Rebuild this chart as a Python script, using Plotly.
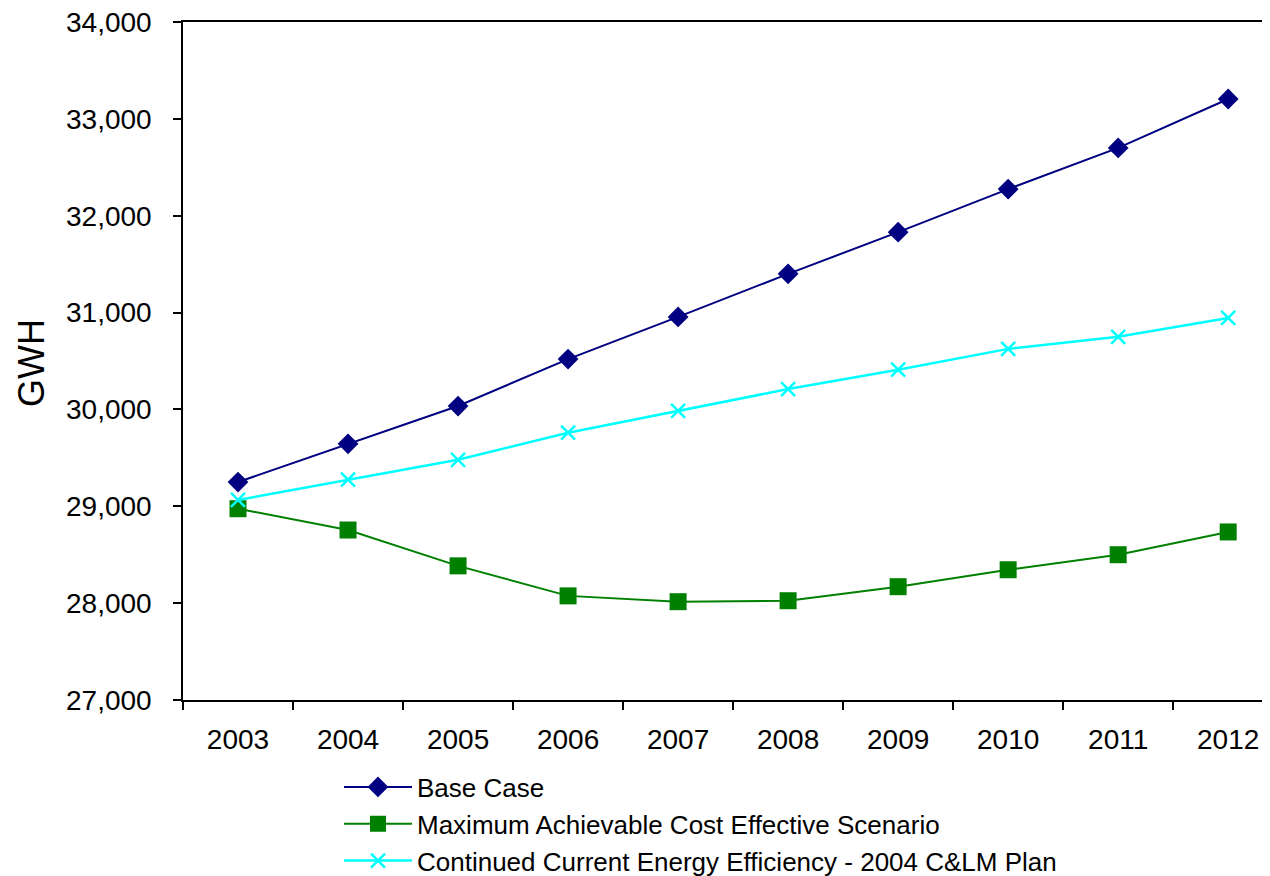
import plotly.graph_objects as go

years = ["2003", "2004", "2005", "2006", "2007", "2008", "2009", "2010", "2011", "2012"]
base_case = [29250, 29645, 30035, 30520, 30955, 31400, 31830, 32275, 32700, 33205]
max_achievable = [28975, 28755, 28385, 28075, 28015, 28025, 28170, 28345, 28500, 28735]
continued_current = [29065, 29275, 29480, 29760, 29985, 30210, 30410, 30625, 30750, 30945]

y_ticks = [27000, 28000, 29000, 30000, 31000, 32000, 33000, 34000]
y_tick_text = ["27,000", "28,000", "29,000", "30,000", "31,000", "32,000", "33,000", "34,000"]

FONT = "Liberation Sans, Arial, sans-serif"

fig = go.Figure()
fig.add_trace(go.Scatter(
    x=years, y=base_case, name="Base Case", mode="lines+markers",
    line=dict(color="#000080", width=2),
    marker=dict(symbol="diamond", size=16, color="#000080"),
))
fig.add_trace(go.Scatter(
    x=years, y=max_achievable, name="Maximum Achievable Cost Effective Scenario",
    mode="lines+markers",
    line=dict(color="#008000", width=2),
    marker=dict(symbol="square", size=17, color="#008000"),
))
fig.add_trace(go.Scatter(
    x=years, y=continued_current, name="Continued Current Energy Efficiency - 2004 C&LM Plan",
    mode="lines+markers",
    line=dict(color="#00FFFF", width=2.5),
    marker=dict(symbol="x-thin", size=14, color="#00FFFF",
                line=dict(color="#00FFFF", width=2.5)),
))

fig.add_annotation(text="GWH", xref="paper", yref="paper", x=-0.1398, y=0.497,
                   xanchor="center", yanchor="middle",
                   showarrow=False, textangle=-90,
                   font=dict(family=FONT, size=36, color="black"))

fig.update_layout(
    width=1262, height=920,
    paper_bgcolor="white", plot_bgcolor="white",
    margin=dict(l=175, r=0, t=14, b=228),
    font=dict(family=FONT, size=26, color="black"),
    showlegend=True,
    legend=dict(
        x=0.1435, y=-0.0937, xanchor="left", yanchor="top",
        font=dict(family=FONT, size=26, color="black"),
        itemwidth=68, tracegroupgap=0, bgcolor="rgba(0,0,0,0)",
    ),
    xaxis=dict(
        type="category", categoryorder="array", categoryarray=years,
        range=[-0.5, 9.38], tickson="boundaries",
        showline=True, mirror=True, linecolor="black", linewidth=1.5,
        ticks="outside", ticklen=8, tickwidth=1.5, tickcolor="black",
        showgrid=False, zeroline=False,
        tickfont=dict(family=FONT, size=28, color="black"),
        ticklabelstandoff=14,
    ),
    yaxis=dict(
        range=[27000, 34000], tickvals=y_ticks, ticktext=y_tick_text,
        showline=True, linecolor="black", linewidth=1.5,
        ticks="outside", ticklen=8, tickwidth=1.5, tickcolor="black",
        showgrid=False, zeroline=False,
        tickfont=dict(family=FONT, size=28, color="black"),
        ticklabelstandoff=16, ticklabeloverflow="allow",
    ),
)

fig.write_html("out.html")
